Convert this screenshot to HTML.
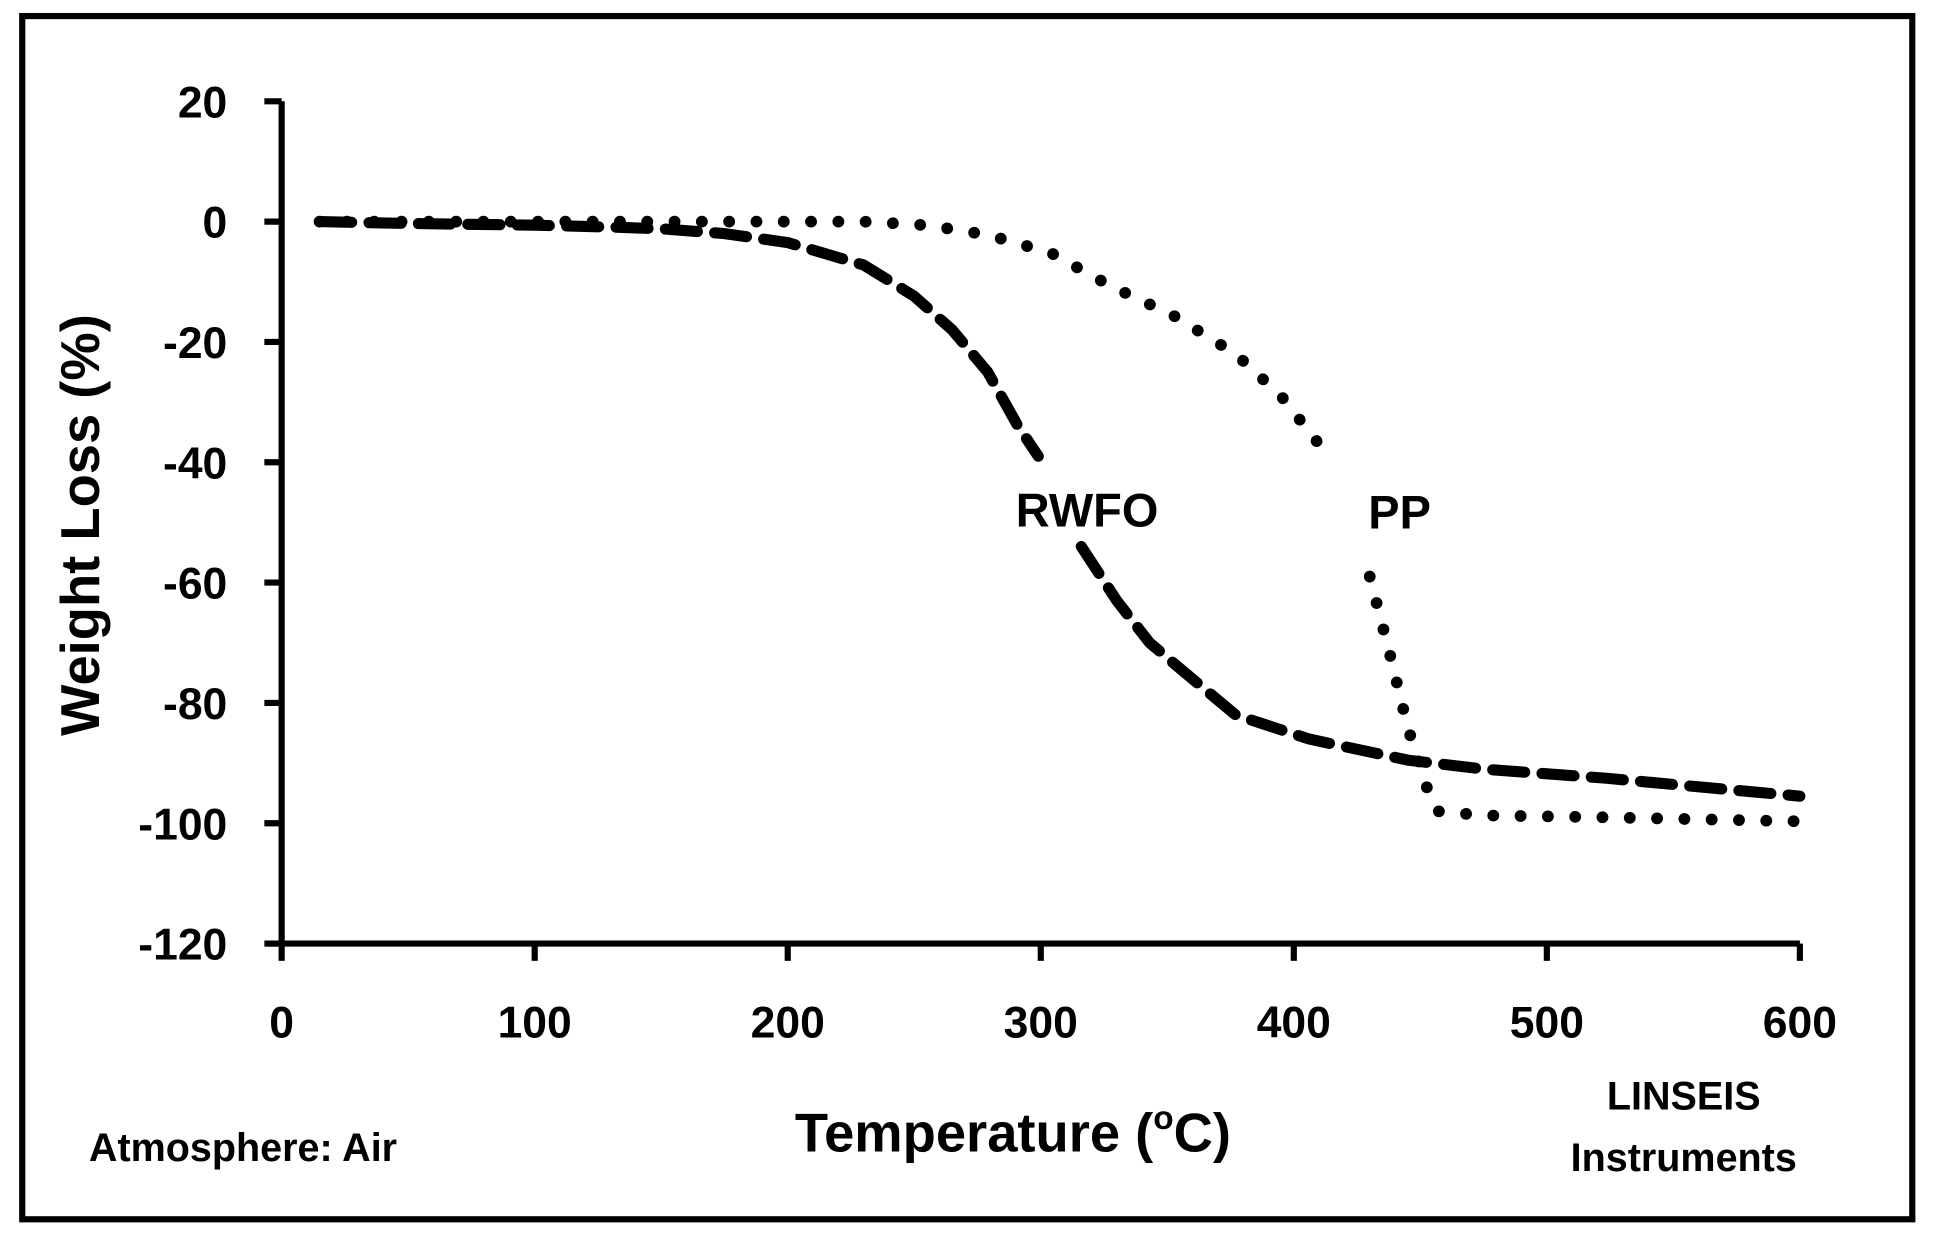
<!DOCTYPE html>
<html><head><meta charset="utf-8"><style>
html,body{margin:0;padding:0;background:#fff}
svg{display:block}
text{font-family:"Liberation Sans",sans-serif;font-weight:bold;fill:#000}
</style></head><body>
<svg id="chart" width="1937" height="1243" viewBox="0 0 1568 1006.2" preserveAspectRatio="none" xmlns="http://www.w3.org/2000/svg">
<rect x="18" y="13" width="1530" height="974" fill="none" stroke="#000" stroke-width="5"/>
<g id="axes"></g>
<g id="series"></g>
<text transform="translate(80,425) rotate(-90)" text-anchor="middle" font-size="44">Weight Loss (%)</text>
<text x="820" y="932" text-anchor="middle" font-size="44">Temperature (<tspan font-size="27" dy="-18">o</tspan><tspan dy="18">C)</tspan></text>
<text x="72" y="940" font-size="32">Atmosphere: Air</text>
<text x="1363" y="898" text-anchor="middle" font-size="32">LINSEIS</text>
<text x="1363" y="948" text-anchor="middle" font-size="32">Instruments</text>
<text x="880" y="426" text-anchor="middle" font-size="38">RWFO</text>
<text x="1133" y="428" text-anchor="middle" font-size="38">PP</text>
</svg>
<script>
const xTicks=[0,100,200,300,400,500,600];
const yTicks=[20,0,-20,-40,-60,-80,-100,-120];
const rwfoT1=[15,50,100,130,150,175,200,230,250,265,279,291,299];
const rwfoW1=[0,-0.3,-0.6,-0.9,-1.2,-2,-3.5,-7.2,-12.4,-18,-25,-34,-39];
const rwfoT2=[316,330,343,357,377,406,445,475,523,600];
const rwfoW2=[-54,-63,-70,-75,-82,-86,-89.5,-91,-92.5,-95.5];
const ppT1=[15,100,150,200,230,255,279,304,328,352,377,395,410];
const ppW1=[0,0,0,0,0,-0.6,-2.2,-5.2,-10.8,-15.5,-22,-29,-37];
const ppT2=[430,438,445,452,457,475,520,600];
const ppW2=[-59,-72,-84,-93.5,-98,-98.7,-99,-99.7];
const NS='http://www.w3.org/2000/svg';
const X=t=>228+t*1229/600;
const Y=w=>179.4-w*4.87;
const axes=document.getElementById('axes'),ser=document.getElementById('series');
function mk(tag,parent,attrs){const e=document.createElementNS(NS,tag);for(const k in attrs)e.setAttribute(k,attrs[k]);parent.appendChild(e);return e;}
let yl=mk('line',axes,{x1:X(0),x2:X(0),y1:Y(20),y2:Y(-120),stroke:'#000','stroke-width':5});


let xl=mk('line',axes,{x1:X(0)-12,x2:X(600),y1:Y(-120),y2:Y(-120),stroke:'#000','stroke-width':5});


yTicks.forEach(v=>{
 let t=mk('line',axes,{x1:X(0)-14,x2:X(0),y1:Y(v),y2:Y(v),stroke:'#000','stroke-width':5});
 
 
 let l=mk('text',axes,{x:X(0)-44,y:Y(v)+13,'text-anchor':'end','font-size':36});l.textContent=v;
 
 
});
xTicks.forEach(v=>{
 let t=mk('line',axes,{x1:X(v),x2:X(v),y1:Y(-120),y2:Y(-120)+14,stroke:'#000','stroke-width':5});
 
 
 let l=mk('text',axes,{x:X(v),y:Y(-120)+76,'text-anchor':'middle','font-size':36});l.textContent=v;
 
 
});
function path(T,W){return T.map((t,i)=>(i?'L':'M')+X(t).toFixed(1)+','+Y(W[i]).toFixed(1)).join(' ');}
[[rwfoT1,rwfoW1],[rwfoT2,rwfoW2]].forEach(s=>{
 let p=mk('path',ser,{d:path(s[0],s[1]),fill:'none',stroke:'#000','stroke-width':9,'stroke-dasharray':'26 14','stroke-linecap':'round','stroke-linejoin':'round'});
 
 
});
[[ppT1,ppW1],[ppT2,ppW2]].forEach(s=>{
 let p=mk('path',ser,{d:path(s[0],s[1]),fill:'none',stroke:'#000','stroke-width':9.5,'stroke-dasharray':'0.1 22','stroke-linecap':'round'});
 
 
});
</script>
</body></html>
